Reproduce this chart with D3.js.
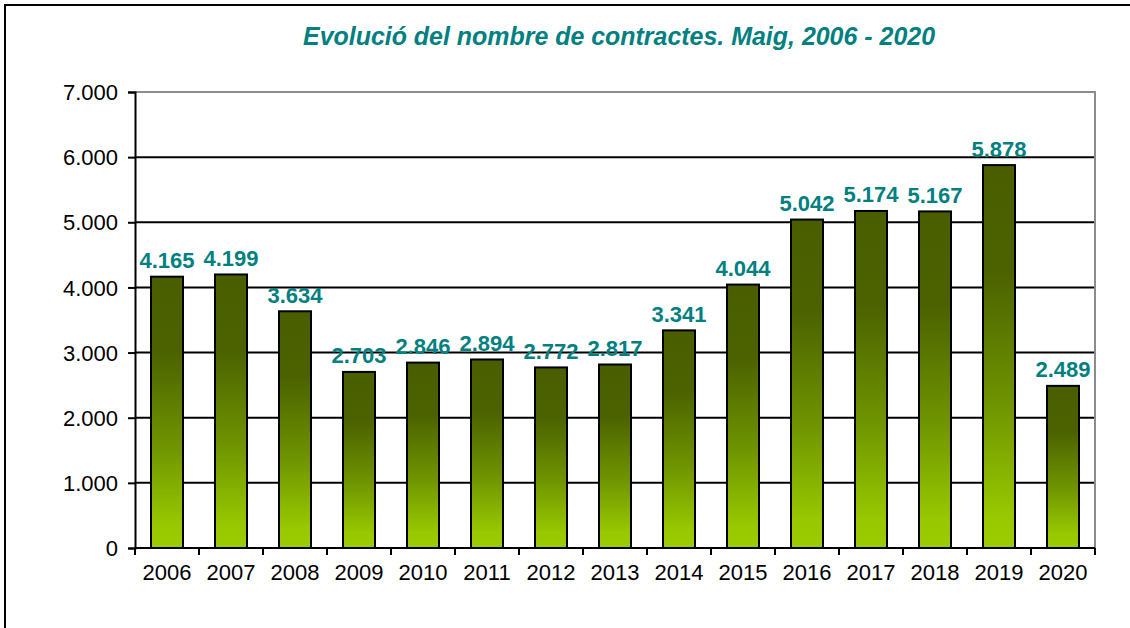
<!DOCTYPE html>
<html><head><meta charset="utf-8">
<script src="https://cdn.jsdelivr.net/npm/d3@7"></script>
<style>
html,body{margin:0;padding:0;background:#fff;}
svg{display:block;font-family:"Liberation Sans",Arial,sans-serif;}
</style></head>
<body><svg id="c" width="1130" height="628"></svg>
<script>
const titleText = "Evolució del nombre de contractes. Maig, 2006 - 2020";
const years = ["2006","2007","2008","2009","2010","2011","2012","2013","2014","2015","2016","2017","2018","2019","2020"];
const values = [4165,4199,3634,2703,2846,2894,2772,2817,3341,4044,5042,5174,5167,5878,2489];
const yTicks = [0,1000,2000,3000,4000,5000,6000,7000];

const svg = d3.select("#c");
const fmt = v => d3.format(",")(v).replace(/,/g, ".");

// outer frame
svg.append("rect").attr("x",5).attr("y",5).attr("width",1140).attr("height",640)
  .attr("fill","none").attr("stroke","#000").attr("stroke-width",2);

const L = 135, R = 1095, T = 92, B = 548;
const x = d3.scaleBand().domain(years).range([L, R]).paddingInner(0.5).paddingOuter(0.25);
const y = d3.scaleLinear().domain([0, 7000]).range([B, T]);

const defs = svg.append("defs");
const g = defs.append("linearGradient").attr("id","bg").attr("x1",0).attr("y1",0).attr("x2",0).attr("y2",1);
g.append("stop").attr("offset","0%").attr("stop-color","#4a5e00");
g.append("stop").attr("offset","28%").attr("stop-color","#4c6200");
g.append("stop").attr("offset","62%").attr("stop-color","#6e9300");
g.append("stop").attr("offset","92%").attr("stop-color","#98c900");
g.append("stop").attr("offset","100%").attr("stop-color","#9acc00");

// gridlines
svg.append("g").selectAll("line").data(yTicks.filter(d => d > 0 && d < 7000)).join("line")
  .attr("x1", L).attr("x2", R).attr("y1", d => y(d)).attr("y2", d => y(d))
  .attr("stroke","#000").attr("stroke-width",2);
// plot area top/right border (gray)
svg.append("path").attr("d", `M${L},${y(7000)}H${R}V${B}`)
  .attr("fill","none").attr("stroke","#8c8c8c").attr("stroke-width",2);

// bars
svg.append("g").selectAll("rect").data(values).join("rect")
  .attr("x", (d,i) => x(years[i])).attr("width", x.bandwidth())
  .attr("y", d => y(d)).attr("height", d => y(0) - y(d))
  .attr("fill","url(#bg)").attr("stroke","#000").attr("stroke-width",2);

// data labels
svg.append("g").selectAll("text").data(values).join("text")
  .attr("x", (d,i) => x(years[i]) + x.bandwidth()/2).attr("y", d => y(d) - 8.5)
  .attr("text-anchor","middle").attr("font-size",22).attr("font-weight","bold")
  .attr("fill","#008080").text(d => fmt(d));

// y axis
const ya = svg.append("g").attr("transform", `translate(${L},0)`)
  .call(d3.axisLeft(y).tickValues(yTicks).tickSize(7).tickPadding(10).tickFormat(fmt));
ya.select(".domain").attr("stroke","#000").attr("stroke-width",2);
ya.selectAll(".tick line").attr("stroke","#000").attr("stroke-width",2);
ya.selectAll("text").attr("font-size",22).attr("font-family","'Liberation Sans',Arial,sans-serif").attr("fill","#000").attr("dy","0.35em");

// x axis
const xa = svg.append("g").attr("transform", `translate(0,${B})`)
  .call(d3.axisBottom(x).tickSize(0).tickPadding(16));
xa.select(".domain").remove();
xa.selectAll("text").attr("font-size",22).attr("font-family","'Liberation Sans',Arial,sans-serif").attr("fill","#000");
svg.append("line").attr("x1",L).attr("x2",R).attr("y1",B).attr("y2",B).attr("stroke","#000").attr("stroke-width",2);
const bounds = years.map(yr => x(yr) - x.step()*x.paddingInner()/2).concat([R]);
svg.append("g").selectAll("line").data(bounds).join("line")
  .attr("x1", d => d).attr("x2", d => d).attr("y1", B).attr("y2", B + 7)
  .attr("stroke","#000").attr("stroke-width",2);

// title
svg.append("text").attr("x", 303).attr("y", 45)
  .attr("font-size",25).attr("font-weight","bold").attr("font-style","italic")
  .attr("fill","#008080").attr("textLength",632).attr("lengthAdjust","spacingAndGlyphs")
  .text(titleText);
</script></body></html>
